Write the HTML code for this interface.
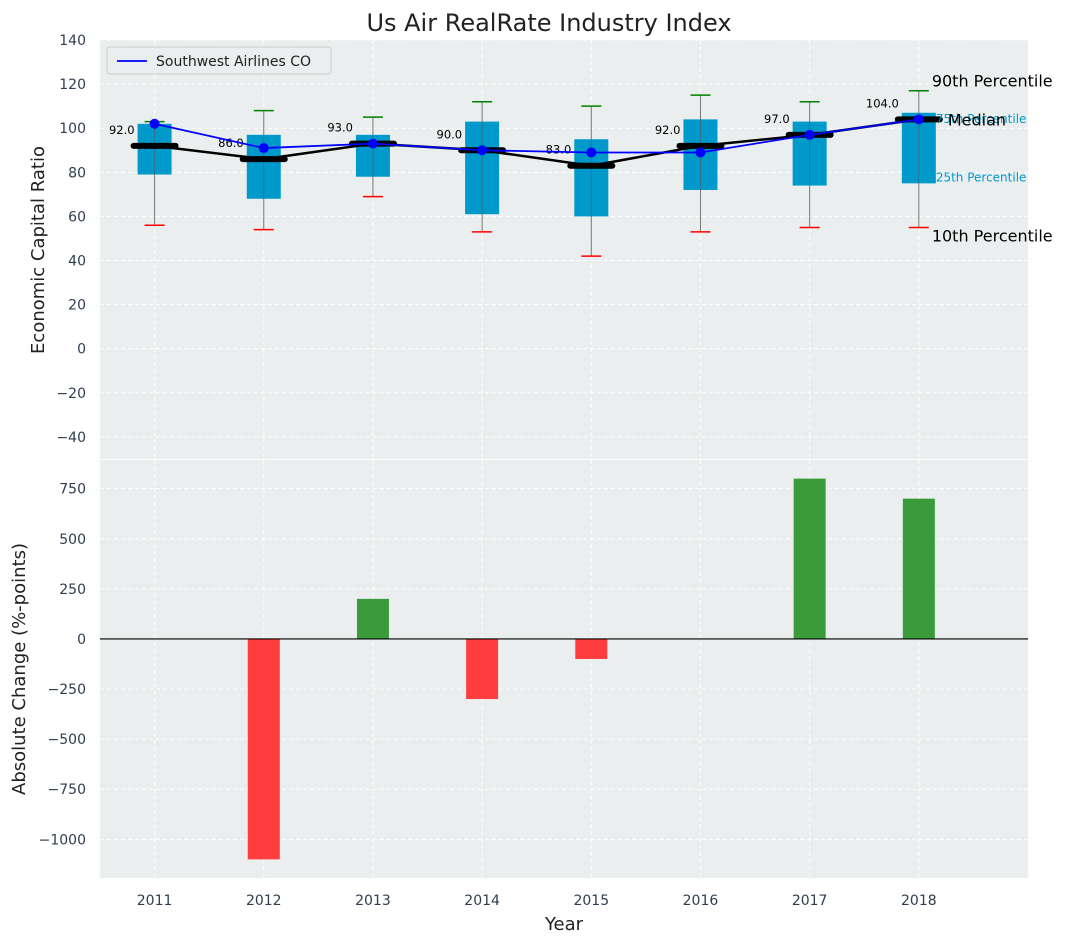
<!DOCTYPE html>
<html><head><meta charset="utf-8"><style>
body{margin:0;background:#fff;}
svg text{font-family:"DejaVu Sans","Liberation Sans",sans-serif;}
</style></head><body>
<svg id="c" width="1067" height="942" xmlns="http://www.w3.org/2000/svg"></svg>
<script>
const years=[2011,2012,2013,2014,2015,2016,2017,2018];
const p10=[56,54,69,53,42,53,55,55];
const p25=[79,68,78,61,60,72,74,75];
const med=[92,86,93,90,83,92,97,104];
const p75=[102,97,97,103,95,104,103,107];
const p90=[103,108,105,112,110,115,112,117];
const sw=[102,91,93,90,89,89,97,104];
const change=[0,-1100,200,-300,-100,0,800,700];
const topTicks=[-40,-20,0,20,40,60,80,100,120,140];
const botTicks=[-1000,-750,-500,-250,0,250,500,750];
const NS="http://www.w3.org/2000/svg";
const svg=document.getElementById('c');
function el(t,a,p){const e=document.createElementNS(NS,t);for(const k in a)e.setAttribute(k,a[k]);(p||svg).appendChild(e);return e;}
const L=100,R=1028;
const X=v=>L+(v-2010.5)/(2019-2010.5)*(R-L);
const T0=40,T1=459;const YT=v=>T0+(140-v)/(190)*(T1-T0);
const B0=460,B1=878;const YB=v=>B0+(893-v)/(893+1193)*(B1-B0);
let e;
e=el('rect',{x:L,y:T0,width:R-L,height:T1-T0,fill:'#eaeeee'});
e=el('rect',{x:L,y:B0,width:R-L,height:B1-B0,fill:'#eaeeee'});
years.forEach(y=>{el('line',{x1:X(y),x2:X(y),y1:T0,y2:T1,stroke:'#fff','stroke-dasharray':'4,3'});el('line',{x1:X(y),x2:X(y),y1:B0,y2:B1,stroke:'#fff','stroke-dasharray':'4,3'});});
topTicks.forEach(t=>{el('line',{x1:L,x2:R,y1:YT(t),y2:YT(t),stroke:'#fff','stroke-dasharray':'4,3'});
 e=el('text',{x:L-14,y:YT(t)+5,'text-anchor':'end','font-size':14,fill:'#2e3e50'});e.textContent=t<0?'\u2212'+(-t):t;});
botTicks.forEach(t=>{el('line',{x1:L,x2:R,y1:YB(t),y2:YB(t),stroke:'#fff','stroke-dasharray':'4,3'});
 e=el('text',{x:L-14,y:YB(t)+5,'text-anchor':'end','font-size':14,fill:'#2e3e50'});e.textContent=t<0?'\u2212'+(-t):t;});
years.forEach((y,i)=>{const x=X(y);
 el('line',{x1:x,x2:x,y1:YT(p90[i]),y2:YT(p10[i]),stroke:'#777','stroke-width':1});
 e=el('rect',{x:x-17,y:YT(p75[i]),width:34,height:YT(p25[i])-YT(p75[i]),fill:'#0099cc'});
 el('line',{x1:x,x2:x,y1:YT(p75[i]),y2:YT(p25[i]),stroke:'#555','stroke-width':1,opacity:0.6});
 el('line',{x1:x-10,x2:x+10,y1:YT(p10[i]),y2:YT(p10[i]),stroke:'red','stroke-width':1.5});
 el('line',{x1:x-10,x2:x+10,y1:YT(p90[i]),y2:YT(p90[i]),stroke:'green','stroke-width':1.5});
});
el('polyline',{points:years.map((y,i)=>X(y)+','+YT(med[i])).join(' '),fill:'none',stroke:'#000','stroke-width':2.5});
years.forEach((y,i)=>{const x=X(y);
 e=el('line',{x1:x-21,x2:x+21,y1:YT(med[i]),y2:YT(med[i]),stroke:'#000','stroke-width':6,'stroke-linecap':'round'});
 e=el('text',{x:x-20,y:YT(med[i])-12,'text-anchor':'end','font-size':11.5,fill:'#000'});e.textContent=med[i].toFixed(1);
});
el('polyline',{points:years.map((y,i)=>X(y)+','+YT(sw[i])).join(' '),fill:'none',stroke:'blue','stroke-width':1.8});
years.forEach((y,i)=>{e=el('circle',{cx:X(y),cy:YT(sw[i]),r:5,fill:'blue'});});
const ax=X(2018)+13;
[['90th Percentile',p90[7],16,'#000',0,-4],['75th Percentile',p75[7],12,'#0099cc',4,10],['Median',med[7],16,'#000',16,6],['25th Percentile',p25[7],12,'#0099cc',4,-2],['10th Percentile',p10[7],16,'#000',0,14]].forEach(a=>{
 e=el('text',{x:ax+a[4],y:YT(a[1])+a[5],'font-size':a[2],fill:a[3]});e.textContent=a[0];});
e=el('rect',{x:107,y:47,width:224,height:27,fill:'#eaeeee',stroke:'#ccc',rx:3});
el('line',{x1:117,x2:147,y1:61,y2:61,stroke:'blue','stroke-width':1.8});
e=el('text',{x:156,y:66,'font-size':14,fill:'#222'});e.textContent='Southwest Airlines CO';
years.forEach((y,i)=>{if(!change[i])return;const v=change[i];
 e=el('rect',{x:X(y)-16,y:Math.min(YB(v),YB(0)),width:32,height:Math.abs(YB(v)-YB(0)),fill:v>0?'#3a9b3a':'#ff3d3d'});});
el('line',{x1:L,x2:R,y1:YB(0),y2:YB(0),stroke:'#000','stroke-width':1.2});
years.forEach(y=>{e=el('text',{x:X(y),y:B1+27,'text-anchor':'middle','font-size':14,fill:'#2e3e50'});e.textContent=y;});
e=el('text',{x:549,y:31,'text-anchor':'middle','font-size':24,fill:'#222'});e.textContent='Us Air RealRate Industry Index';
e=el('text',{x:564,y:930,'text-anchor':'middle','font-size':18,fill:'#222'});e.textContent='Year';
e=el('text',{x:0,y:0,'text-anchor':'middle','font-size':18,fill:'#222',transform:'translate(44,250) rotate(-90)'});e.textContent='Economic Capital Ratio';
e=el('text',{x:0,y:0,'text-anchor':'middle','font-size':18,fill:'#222',transform:'translate(25,669) rotate(-90)'});e.textContent='Absolute Change (%-points)';
</script>
</body></html>
